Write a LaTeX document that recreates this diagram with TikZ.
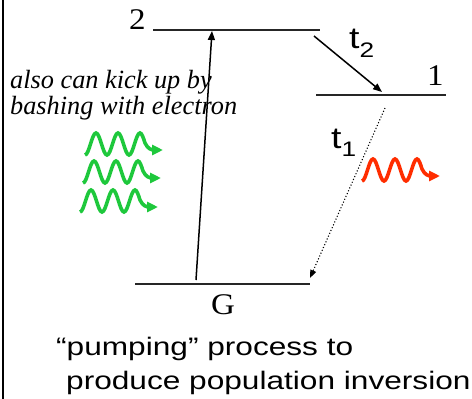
\documentclass[tikz,border=0pt]{standalone}
\usepackage{fontspec}
\setmainfont{Liberation Serif}
\newfontfamily\timesit{Liberation Serif Italic}
\newfontfamily\arialw{Liberation Sans}[FakeStretch=1.25]
\newfontfamily\timesw{Liberation Serif}[FakeStretch=1.1]
\usetikzlibrary{arrows.meta}
\definecolor{wavegreen}{RGB}{30,200,60}
\definecolor{wavered}{RGB}{255,45,0}
\tikzset{
  level/.style={line width=1.2pt, black!85},
  lvllabel/.style={inner sep=0pt, anchor=base west, font=\timesw\fontsize{30}{30}\selectfont},
  tlabel/.style={inner sep=0pt, anchor=base west, font=\arialw\fontsize{30}{30}\selectfont},
  itext/.style={inner sep=0pt, anchor=base west, font=\timesit\fontsize{26.3}{26.3}\selectfont},
  btext/.style={inner sep=0pt, anchor=base west, font=\arialw\fontsize{25.3}{25.3}\selectfont},
  trans/.style={line width=1.5pt, -{Triangle[length=9pt,width=7pt]}},
  decay/.style={line width=1.1pt, dotted, -{Triangle[length=8pt,width=6pt]}},
  wave/.pic={
    \draw[line width=3.6pt, -{Triangle[length=11pt,width=10pt]}, pic actions]
      (0,0) cos (5.5,-11) sin (11,-22) cos (16.5,-11) sin (22,0)
      cos (27.5,-11) sin (33,-22) cos (38.5,-11) sin (44,0)
      cos (49.5,-11) sin (55,-22) cos (60,-12)
      .. controls (63,-6) and (66,-5) .. (70,-5) -- (78,-5);
  }
}
\begin{document}
\begin{tikzpicture}[x=1pt,y=-1pt]
\useasboundingbox (0,0) rectangle (472,399);
% left border
\coordinate (bt) at (2.5,0); \coordinate (bb) at (2.5,399);
\draw[line width=2pt] (bt) -- (bb);
% levels
\coordinate (L2a) at (153,30); \coordinate (L2b) at (320,30);
\coordinate (L1a) at (316,95); \coordinate (L1b) at (446,95);
\coordinate (LGa) at (135,284); \coordinate (LGb) at (310,284);
\draw[level] (L2a) -- (L2b);
\draw[level] (L1a) -- (L1b);
\draw[level] (LGa) -- (LGb);
\node[lvllabel] (n2) at (129,29) {2};
\node[lvllabel] (n1) at (427,85) {1};
\node[lvllabel] (nG) at (211,314) {G};
% transitions
\coordinate (pumpS) at (196,280); \coordinate (pumpE) at (212,31);
\draw[trans] (pumpS) -- (pumpE);
\coordinate (t2S) at (314,36); \coordinate (t2E) at (382,92);
\draw[trans] (t2S) -- (t2E);
\coordinate (t1S) at (385,108); \coordinate (t1E) at (310,278);
\draw[decay] (t1S) -- (t1E);
\node[tlabel] (t2) at (349,48) {t\raisebox{-9pt}{\fontsize{21}{21}\selectfont 2}};
\node[tlabel] (t1) at (331,148) {t\raisebox{-8pt}{\fontsize{21}{21}\selectfont 1}};
% texts
\node[itext] (also) at (10,88) {also can kick up by};
\node[itext] (bash) at (10,114) {bashing with electron};
\node[btext] (pump) at (56,355) {“pumping” process to};
\node[btext] (prod) at (66,389) {produce population inversion};
% waves
\pic[color=wavegreen] at (85,155) {wave};
\pic[color=wavegreen] at (83,183) {wave};
\pic[color=wavegreen] at (80,212) {wave};
\pic[color=wavered] at (362,181) {wave};
\end{tikzpicture}
\end{document}
